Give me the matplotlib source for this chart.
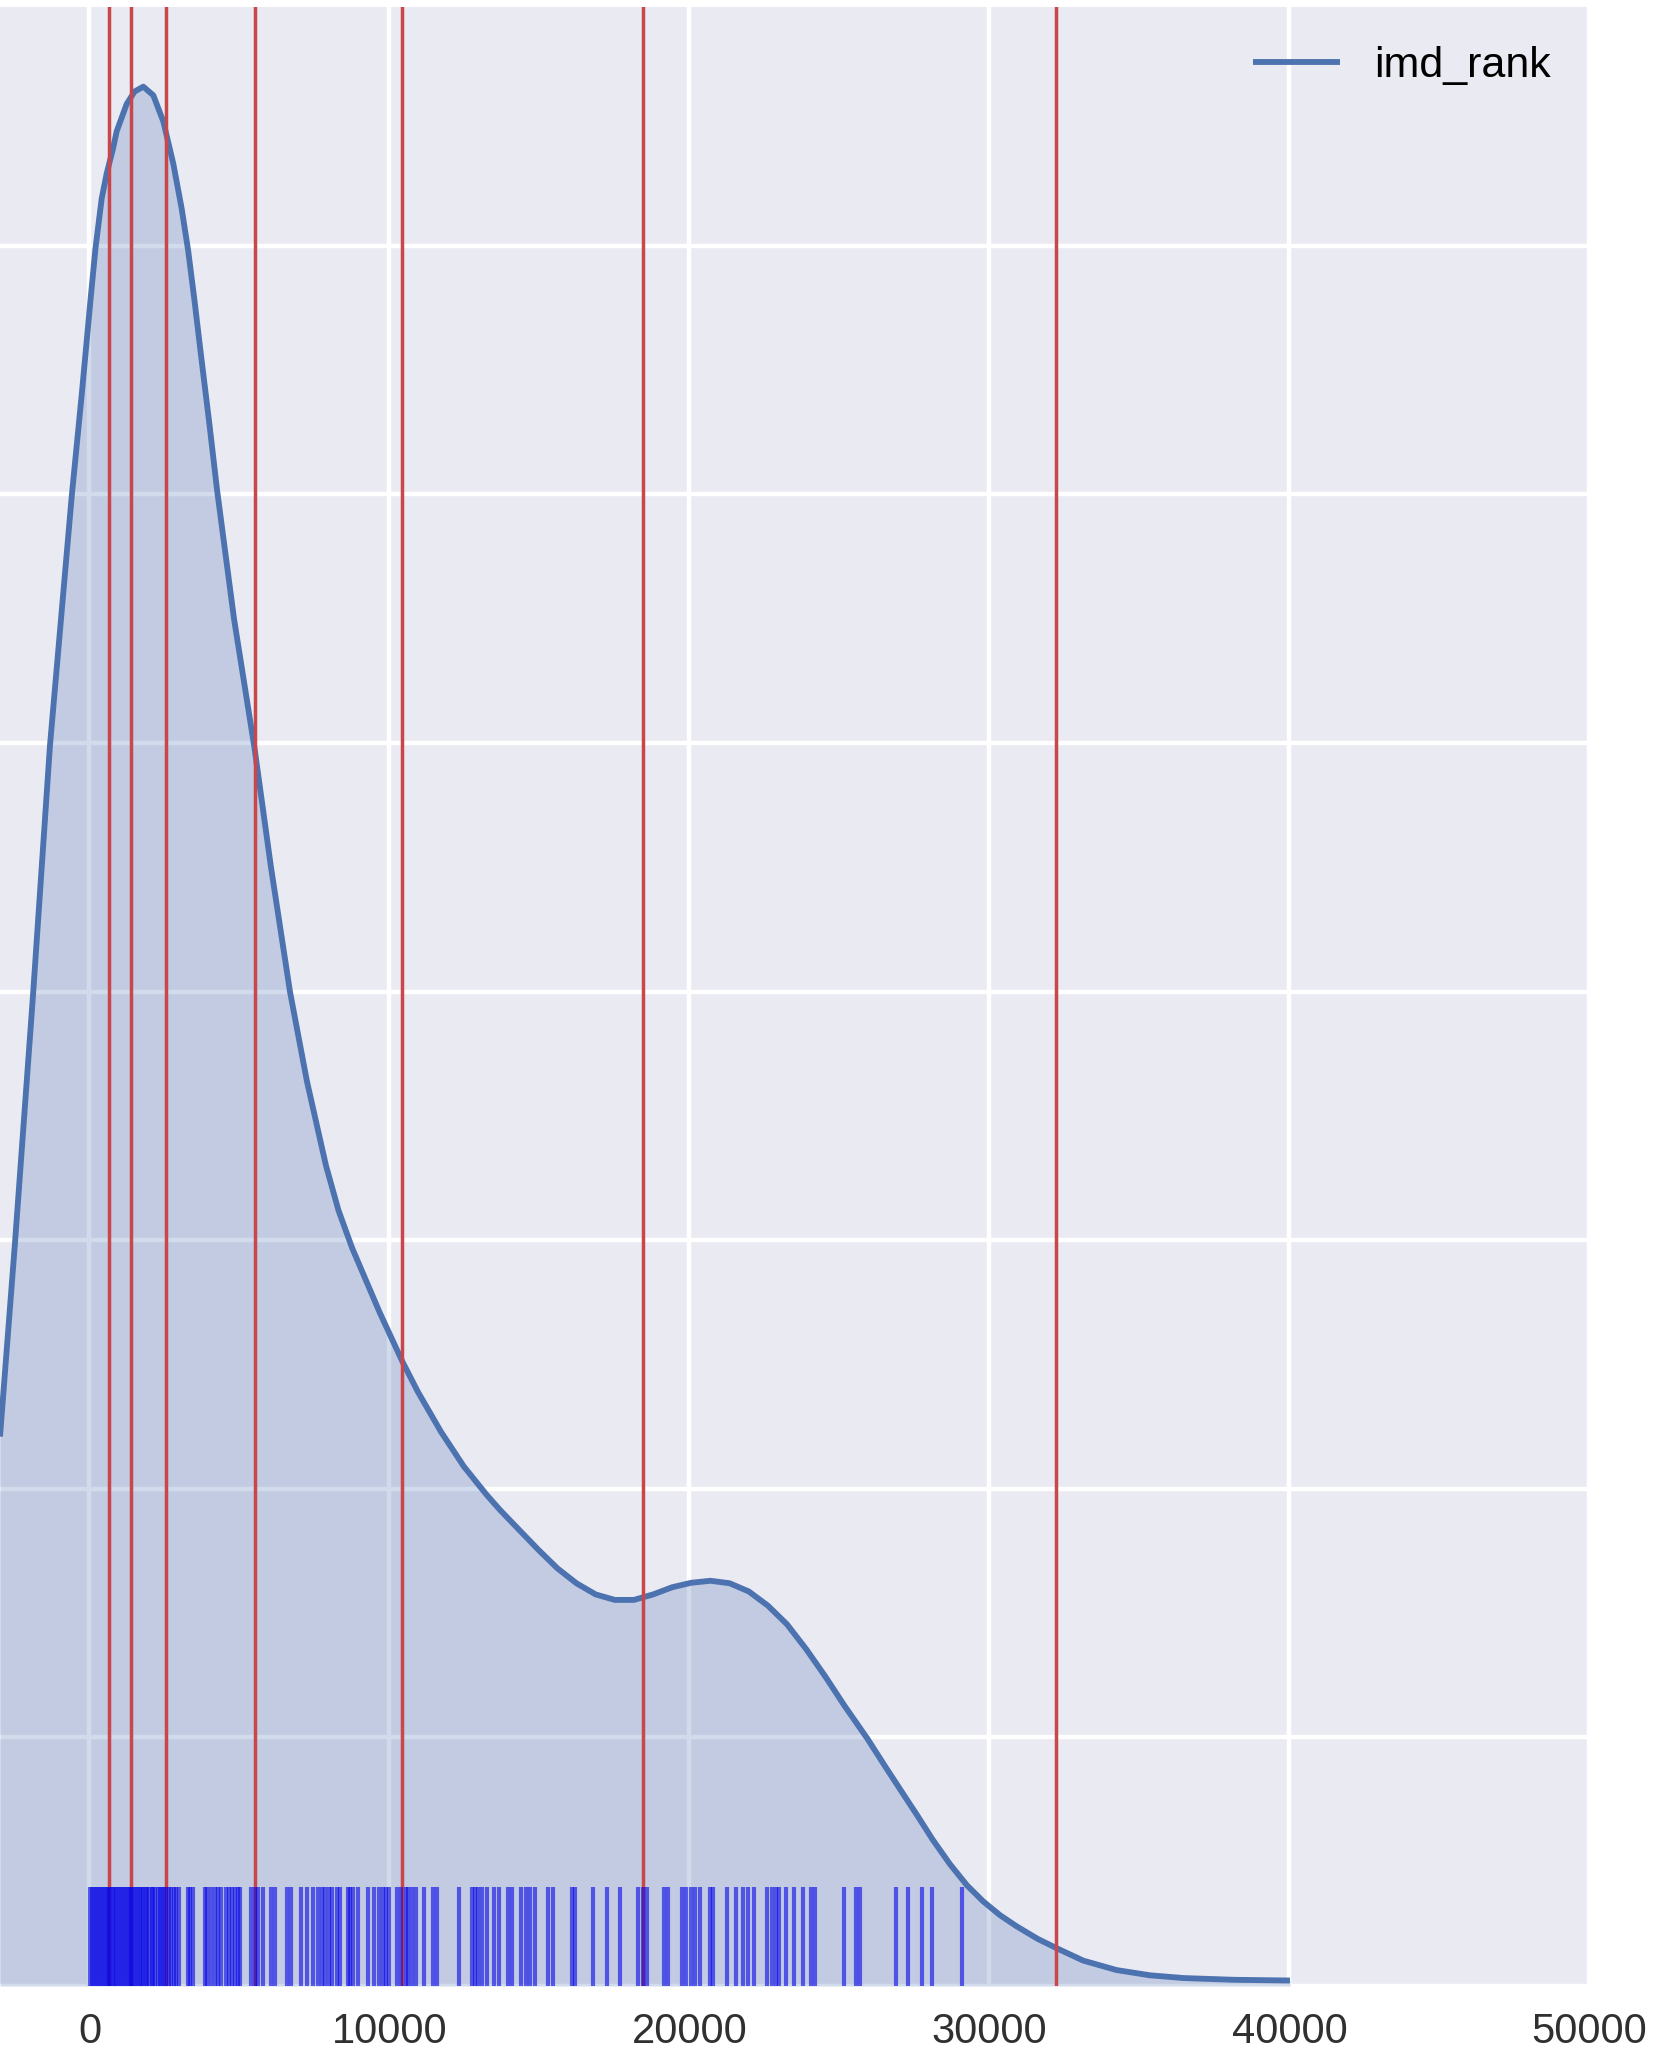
import matplotlib
matplotlib.use("Agg")
import matplotlib.pyplot as plt

# ---------------- data ----------------
series_label = "imd_rank"

# KDE curve (x in rank units, density)
curve_x = [-2983, -2483, -1880, -1317, -594, -260, 40, 200, 407, 572, 783,
           906, 1239, 1500, 1794, 2128, 2461, 2794, 3072, 3290, 3500, 3717,
           4000, 4250, 4817, 5500, 6050, 6683, 7247, 7883, 8300, 8750, 9670,
           10437, 10947, 11713, 12477, 13243, 13683, 14320, 14960, 15597,
           16233, 16873, 17510, 18150, 18787, 19423, 20063, 20700, 21337,
           21977, 22613, 23250, 23890, 24527, 25163, 25930, 26567, 27207,
           27572, 28100, 28683, 29250, 29794, 30350, 30906, 31600, 32240,
           33128, 34240, 35350, 36460, 38128, 40017]
curve_density = [2.21e-5, 2.99e-5, 3.99e-5, 4.99e-5, 5.99e-5, 6.40e-5,
                 6.79e-5, 6.99e-5, 7.19e-5, 7.29e-5, 7.39e-5, 7.46e-5,
                 7.57e-5, 7.62e-5, 7.64e-5, 7.605e-5, 7.50e-5, 7.33e-5,
                 7.15e-5, 6.98e-5, 6.78e-5, 6.56e-5, 6.28e-5, 6.02e-5,
                 5.50e-5, 4.98e-5, 4.50e-5, 4.00e-5, 3.64e-5, 3.30e-5,
                 3.12e-5, 2.97e-5, 2.71e-5, 2.51e-5, 2.39e-5, 2.23e-5,
                 2.09e-5, 1.975e-5, 1.915e-5, 1.835e-5, 1.755e-5, 1.68e-5,
                 1.62e-5, 1.575e-5, 1.553e-5, 1.553e-5, 1.575e-5, 1.604e-5,
                 1.622e-5, 1.630e-5, 1.620e-5, 1.587e-5, 1.530e-5, 1.455e-5,
                 1.355e-5, 1.245e-5, 1.128e-5, 0.995e-5, 0.875e-5, 0.757e-5,
                 0.69e-5, 0.59e-5, 0.49e-5, 0.405e-5, 0.34e-5, 0.285e-5,
                 0.24e-5, 0.19e-5, 0.152e-5, 0.102e-5, 0.064e-5, 0.043e-5,
                 0.032e-5, 0.025e-5, 0.022e-5]

# rug observations
rug_values = [20, 90, 150, 230, 300, 360, 420, 480, 560, 620, 650, 700, 780,
              830, 900, 960, 1020, 1080, 1150, 1210, 1280, 1340, 1373, 1420,
              1490, 1550, 1610, 1680, 1740, 1800, 1870, 1930, 2000, 2070,
              2130, 2200, 2280, 2350, 2420, 2490, 2560, 2640, 2720, 2810,
              2900, 2980, 3280, 3350, 3450, 3850, 3930, 4050, 4200, 4300,
              4400, 4560, 4650, 4760, 4850, 4950, 5030, 5400, 5520, 5620,
              5800, 6050, 6200, 6570, 6720, 7050, 7250, 7450, 7620, 7750,
              7850, 8000, 8100, 8250, 8350, 8620, 8700, 8800, 8950, 9280,
              9500, 9650, 9800, 9900, 9980, 10250, 10400, 10550, 10620,
              10750, 10900, 11150, 11450, 11600, 12330, 12750, 12850, 12950,
              13100, 13250, 13500, 13650, 13950, 14100, 14400, 14550, 14700,
              14850, 15300, 15450, 16100, 16200, 16800, 17250, 17680, 18300,
              18450, 18600, 19150, 19280, 19750, 19900, 20050, 20200, 20350,
              20700, 20780, 21250, 21550, 21800, 21950, 22150, 22600, 22750,
              22900, 23000, 23220, 23480, 23770, 24050, 24200, 25150, 25550,
              25680, 26880, 27300, 27760, 28070, 29100]

# red reference lines
red_line_values = [650, 1373, 2563, 5525, 10423, 18437, 32210]

x_ticks = [0, 10000, 20000, 30000, 40000, 50000]
y_ticks = [0, 1e-5, 2e-5, 3e-5, 4e-5, 5e-5, 6e-5, 7e-5]
x_limits = (-2983, 50000)
y_limits = (0, 7.96e-5)

# ---------------- drawing ----------------
plt.rcParams["font.family"] = ["Liberation Sans", "DejaVu Sans"]

fig = plt.figure(figsize=(16.55, 20.62), dpi=100)
fig.patch.set_facecolor("white")
ax = fig.add_axes([0.0, 0.03686, 0.9604, 0.9597])
ax.set_facecolor("#EAEAF2")
for s in ax.spines.values():
    s.set_visible(False)
ax.set_axisbelow(True)
ax.grid(True, color="white", linewidth=3.2)

kde_color = "#4C72B0"
ax.fill_between(curve_x, curve_density, color=kde_color, alpha=0.25,
                linewidth=0)
ax.plot(curve_x, curve_density, color=kde_color, lw=4.2, label=series_label,
        solid_capstyle="butt", solid_joinstyle="round")

for v in red_line_values:
    ax.axvline(v, color="#C9474B", lw=2.5)

ax.vlines(rug_values, 0, 0.05, transform=ax.get_xaxis_transform(),
          colors="#0a0ae6", alpha=0.62, lw=3.0)

ax.set_xlim(*x_limits)
ax.set_ylim(*y_limits)
ax.set_xticks(x_ticks)
ax.set_xticklabels([str(t) for t in x_ticks])
ax.set_yticks(y_ticks)
ax.tick_params(axis="both", length=0, labelsize=30, pad=19,
               labelcolor="#303030")
ax.tick_params(axis="y", labelleft=False)

ax.legend(loc="upper right", frameon=False, fontsize=31)

fig.savefig("out.png", dpi=100, facecolor="white")
